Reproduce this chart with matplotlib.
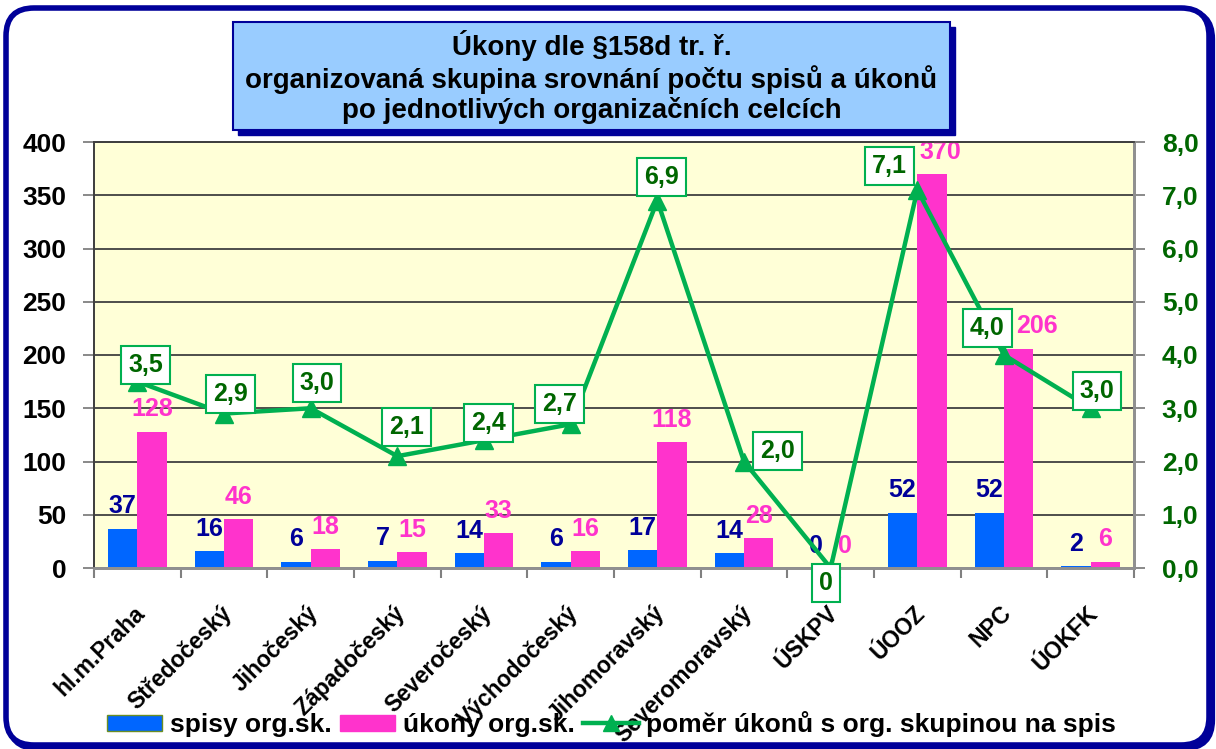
import numpy as np
import matplotlib.pyplot as plt
import matplotlib.transforms as mtransforms
from matplotlib.patches import FancyBboxPatch, Patch
from matplotlib.lines import Line2D

plt.rcParams['font.family'] = ['Liberation Sans', 'DejaVu Sans']
plt.rcParams['font.weight'] = 'bold'

# Data
celky = ['hl.m.Praha', 'Středočeský', 'Jihočeský', 'Západočeský', 'Severočeský',
         'Východočeský', 'Jihomoravský', 'Severomoravský', 'ÚSKPV', 'ÚOOZ', 'NPC', 'ÚOKFK']
spisy = [37, 16, 6, 7, 14, 6, 17, 14, 0, 52, 52, 2]
ukony = [128, 46, 18, 15, 33, 16, 118, 28, 0, 370, 206, 6]
pomer = [3.5, 2.9, 3.0, 2.1, 2.4, 2.7, 6.9, 2.0, 0, 7.1, 4.0, 3.0]

titulek = ('Úkony dle §158d tr. ř.\n'
           'organizovaná skupina srovnání počtu spisů a úkonů\n'
           'po jednotlivých organizačních celcích')

MODRA = '#0066FF'
RUZOVA = '#FF33CC'
ZELENA = '#00B050'
TMAVE_ZELENA = '#006600'
NAMORNI = '#000099'
RAMEC = '#000099'

fig = plt.figure(figsize=(12.16, 7.49), dpi=100)

# ramecek kolem celeho grafu (se stinem)
stin = FancyBboxPatch((0.09, 0.01), 12.03, 7.37, boxstyle='round,pad=0,rounding_size=0.28',
                      transform=fig.dpi_scale_trans, fc='none', ec=RAMEC, lw=4.5, zorder=0)
ram = FancyBboxPatch((0.06, 0.04), 12.03, 7.37, boxstyle='round,pad=0,rounding_size=0.28',
                     transform=fig.dpi_scale_trans, fc='white', ec=RAMEC, lw=4, zorder=0)
fig.patches.extend([stin, ram])

ax = fig.add_axes([94 / 1216, 1 - 568 / 749, 1040 / 1216, 426 / 749])
ax2 = ax.twinx()
ax.set_zorder(1)
ax2.set_zorder(2)
ax.set_facecolor('#FFFFD7')

x = np.arange(len(celky))
w = 0.34
ax.bar(x - w / 2, spisy, w, color=MODRA, zorder=2)
ax.bar(x + w / 2, ukony, w, color=RUZOVA, zorder=2)

# popisky sloupcu; u NPC a UOOZ odsunute doprava kvuli ramecku pomeru
posun_ruzove = {9: 6, 10: 13}
for xi, v in zip(x, spisy):
    ax.annotate(str(v), (xi - w / 2, v), xytext=(0, 16), textcoords='offset points',
                ha='center', va='center', fontsize=18, color=NAMORNI, zorder=3)
for i, (xi, v) in enumerate(zip(x, ukony)):
    ax.annotate(str(v), (xi + w / 2, v), xytext=(posun_ruzove.get(i, 0), 16),
                textcoords='offset points', ha='center', va='center', fontsize=18,
                color=RUZOVA, zorder=3)

ax.set_xlim(-0.5, len(celky) - 0.5)
ax.set_ylim(0, 400)
ax.set_yticks(np.arange(0, 401, 50))
ax.yaxis.grid(True, color='#404040', lw=1.3)
ax.set_axisbelow(True)

ax.set_xticks(x)
ax.set_xticklabels(celky, rotation=45, ha='right', va='center', rotation_mode='anchor',
                   fontsize=16.5)
ax.set_xticks(np.arange(-0.5, len(celky)), minor=True)
ax.tick_params(axis='x', which='major', length=0, pad=30)
ax.tick_params(axis='x', which='minor', length=7, width=1.5, color='#808080')
posun_x = mtransforms.ScaledTranslation(4 / 100, 0, fig.dpi_scale_trans)
for lab in ax.get_xticklabels():
    lab.set_transform(lab.get_transform() + posun_x)
ax.tick_params(axis='y', length=8, width=1.3, color='#808080', labelsize=19, pad=12)

# pomer ukonu na spis
ax2.plot(x, pomer, color=ZELENA, lw=3.2, marker='^', ms=13, zorder=4, clip_on=False)
ax2.set_ylim(0, 8)
ax2.set_yticks(np.arange(0, 9, 1))
ax2.set_yticklabels([f'{v:.1f}'.replace('.', ',') for v in np.arange(0, 9, 1)])
ax2.tick_params(axis='y', length=8, width=1.3, color='#808080', labelsize=19, pad=12,
                labelcolor=TMAVE_ZELENA)

# umisteni popisku pomeru (body)
posun = [(6, 12), (4.5, 14), (4.5, 18), (6.5, 21), (3, 12.5), (-8, 14.5),
         (3, 17), (24, 7.5), (-3.5, -11), (-20, 17.5), (-12, 19.5), (4.5, 12.5)]
for xi, p, d in zip(x, pomer, posun):
    txt = f'{p:.1f}'.replace('.', ',') if p else '0'
    ax2.annotate(txt, (xi, p), xytext=d, textcoords='offset points', ha='center',
                 va='center', fontsize=18, color=TMAVE_ZELENA, zorder=6,
                 annotation_clip=False,
                 bbox=dict(boxstyle='square,pad=0.28', fc='white', ec=ZELENA, lw=1.5))

for a in (ax, ax2):
    a.spines['top'].set_color('#404040')
    a.spines['top'].set_linewidth(1.3)
    a.spines['left'].set_color('#404040')
    a.spines['left'].set_linewidth(1.3)
    a.spines['right'].set_color('#909090')
    a.spines['right'].set_linewidth(2)
    a.spines['bottom'].set_color('#909090')
    a.spines['bottom'].set_linewidth(2)

# titulek v modrem ramecku
box_stin = FancyBboxPatch((2.38, 6.14), 7.17, 1.08, boxstyle='square,pad=0',
                          transform=fig.dpi_scale_trans, fc=RAMEC, ec=RAMEC, lw=1, zorder=5)
box = FancyBboxPatch((2.33, 6.19), 7.17, 1.08, boxstyle='square,pad=0',
                     transform=fig.dpi_scale_trans, fc='#99CCFF', ec=RAMEC, lw=1.5, zorder=6)
fig.patches.extend([box_stin, box])
fig.text(591.5 / 1216, 1 - 77 / 749, titulek, ha='center', va='center', fontsize=20,
         linespacing=1.15, zorder=7)

handles = [Patch(fc=MODRA, ec='#6B8E23'), Patch(fc=RUZOVA, ec=RUZOVA),
           Line2D([], [], color=ZELENA, lw=3.2, marker='^', ms=12)]
fig.legend(handles, ['spisy org.sk.', 'úkony org.sk.', 'poměr úkonů s org. skupinou na spis'],
           loc='center', bbox_to_anchor=(0.503, 1 - 724 / 749), ncol=3, frameon=False,
           fontsize=19, handlelength=2.1, handleheight=0.55, handletextpad=0.3,
           columnspacing=0.3)

fig.savefig('out.png', dpi=100)
